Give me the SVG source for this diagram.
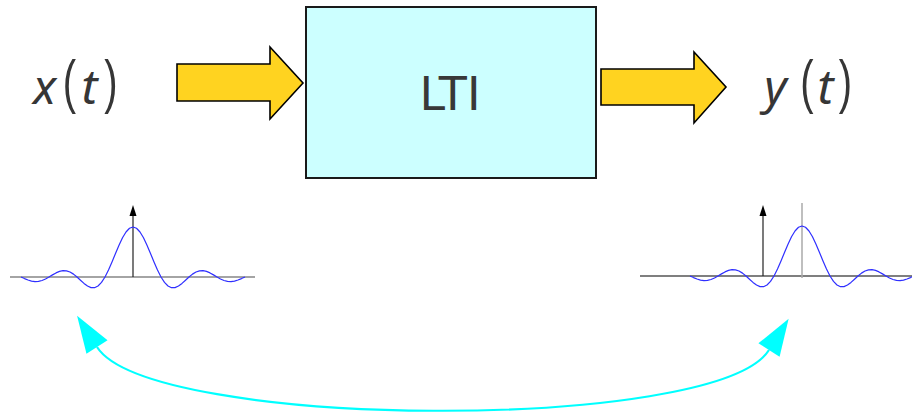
<svg xmlns="http://www.w3.org/2000/svg" xmlns:xlink="http://www.w3.org/1999/xlink" width="912" height="415" viewBox="0 0 912 415">
  <style>
    .var { font-family: "Noto Sans", "DejaVu Sans", sans-serif; font-style: italic; font-size: 48px; fill: #363636; text-anchor: middle; }
    .paren { font-family: "Liberation Sans", Arial, sans-serif; font-size: 40px; fill: #363636; text-anchor: middle; }
    .lti { font-family: "DejaVu Sans", sans-serif; font-size: 46px; fill: #383838; text-anchor: middle; }
    .block { fill: #ffd320; stroke: #000; stroke-width: 1.6; stroke-linejoin: miter; }
    .sinc { fill: none; stroke: #2f2fff; stroke-width: 1.2; stroke-linejoin: round; }
    .cyan { fill: none; stroke: #00ffff; stroke-width: 2.2; }
  </style>
  <defs>
    <path id="sinc" class="sinc" d="M-112,0 L-108.5,1.57 -105,3 -101.5,4.06 -98,4.55 -94.5,4.36 -91,3.46 -87.5,1.95 -84,0 -80.5,-2.12 -77,-4.09 -73.5,-5.6 -70,-6.37 -66.5,-6.19 -63,-5 -59.5,-2.87 -56,0 -52.5,3.25 -49,6.43 -45.5,9.05 -42,10.61 -38.5,10.69 -35,9 -31.5,5.41 -28,0 -24.5,-6.96 -21,-15.01 -17.5,-23.53 -14,-31.83 -10.5,-39.21 -7,-45.02 -3.5,-48.73 0,-50 3.5,-48.73 7,-45.02 10.5,-39.21 14,-31.83 17.5,-23.53 21,-15.01 24.5,-6.96 28,0 31.5,5.41 35,9 38.5,10.69 42,10.61 45.5,9.05 49,6.43 52.5,3.25 56,0 59.5,-2.87 63,-5 66.5,-6.19 70,-6.37 73.5,-5.6 77,-4.09 80.5,-2.12 84,0 87.5,1.95 91,3.46 94.5,4.36 98,4.55 101.5,4.06 105,3 108.5,1.57 112,0"/>
    <marker id="cyanhead" markerUnits="userSpaceOnUse" markerWidth="40" markerHeight="30" refX="0" refY="0" viewBox="-2 -15 40 30" orient="auto-start-reverse" overflow="visible">
      <path d="M0,-12.5 L37,0 L0,12.5 Z" fill="#00ffff"/>
    </marker>
    <marker id="axishead" markerUnits="userSpaceOnUse" markerWidth="12" markerHeight="10" refX="0" refY="0" viewBox="0 -5 12 10" orient="auto" overflow="visible">
      <path d="M0,-3.5 L11,0 L0,3.5 Z" fill="#000"/>
    </marker>
  </defs>

  <g id="x-label">
    <text class="var" x="44.5" y="104">x</text>
    <text class="var" x="89.5" y="104">t</text>
    <g transform="scale(1,1.5)">
      <text class="paren" x="69.5" y="67.8">(</text>
      <text class="paren" x="111" y="67.8">)</text>
    </g>
  </g>

  <g id="input-arrow">
    <polygon class="block" points="177,64 270,64 270,47 303,83 270,119 270,101 177,101"/>
  </g>

  <g id="lti">
    <rect x="306" y="7" width="290" height="171" fill="#ccffff" stroke="#1a1a1a" stroke-width="2"/>
    <text class="lti" x="450" y="110">LTI</text>
  </g>

  <g id="output-arrow">
    <polygon class="block" points="601,69 694,69 694,52 726,87 694,123 694,105 601,105"/>
  </g>

  <g id="y-label">
    <text class="var" x="775.5" y="104">y</text>
    <text class="var" x="825.5" y="104">t</text>
    <g transform="scale(1,1.5)">
      <text class="paren" x="807" y="67.8">(</text>
      <text class="paren" x="845.5" y="67.8">)</text>
    </g>
  </g>

  <g id="input-signal">
    <line x1="10" y1="277" x2="255" y2="277" stroke="#4a4a4a" stroke-width="1.2"/>
    <line x1="133" y1="277" x2="133" y2="216" stroke="#222" stroke-width="1.2" marker-end="url(#axishead)"/>
    <use xlink:href="#sinc" href="#sinc" x="133" y="277"/>
  </g>

  <g id="output-signal">
    <line x1="640" y1="276" x2="912" y2="276" stroke="#000" stroke-width="1.2"/>
    <line x1="763" y1="276" x2="763" y2="216" stroke="#222" stroke-width="1.2" marker-end="url(#axishead)"/>
    <line x1="802" y1="203" x2="802" y2="278" stroke="#aaaaaa" stroke-width="1.5"/>
    <use xlink:href="#sinc" href="#sinc" x="802" y="276"/>
  </g>

  <g id="connectors">
    <path class="cyan" d="M97,347 C150,430 717,433 769,350" marker-start="url(#cyanhead)" marker-end="url(#cyanhead)"/>
  </g>
</svg>
